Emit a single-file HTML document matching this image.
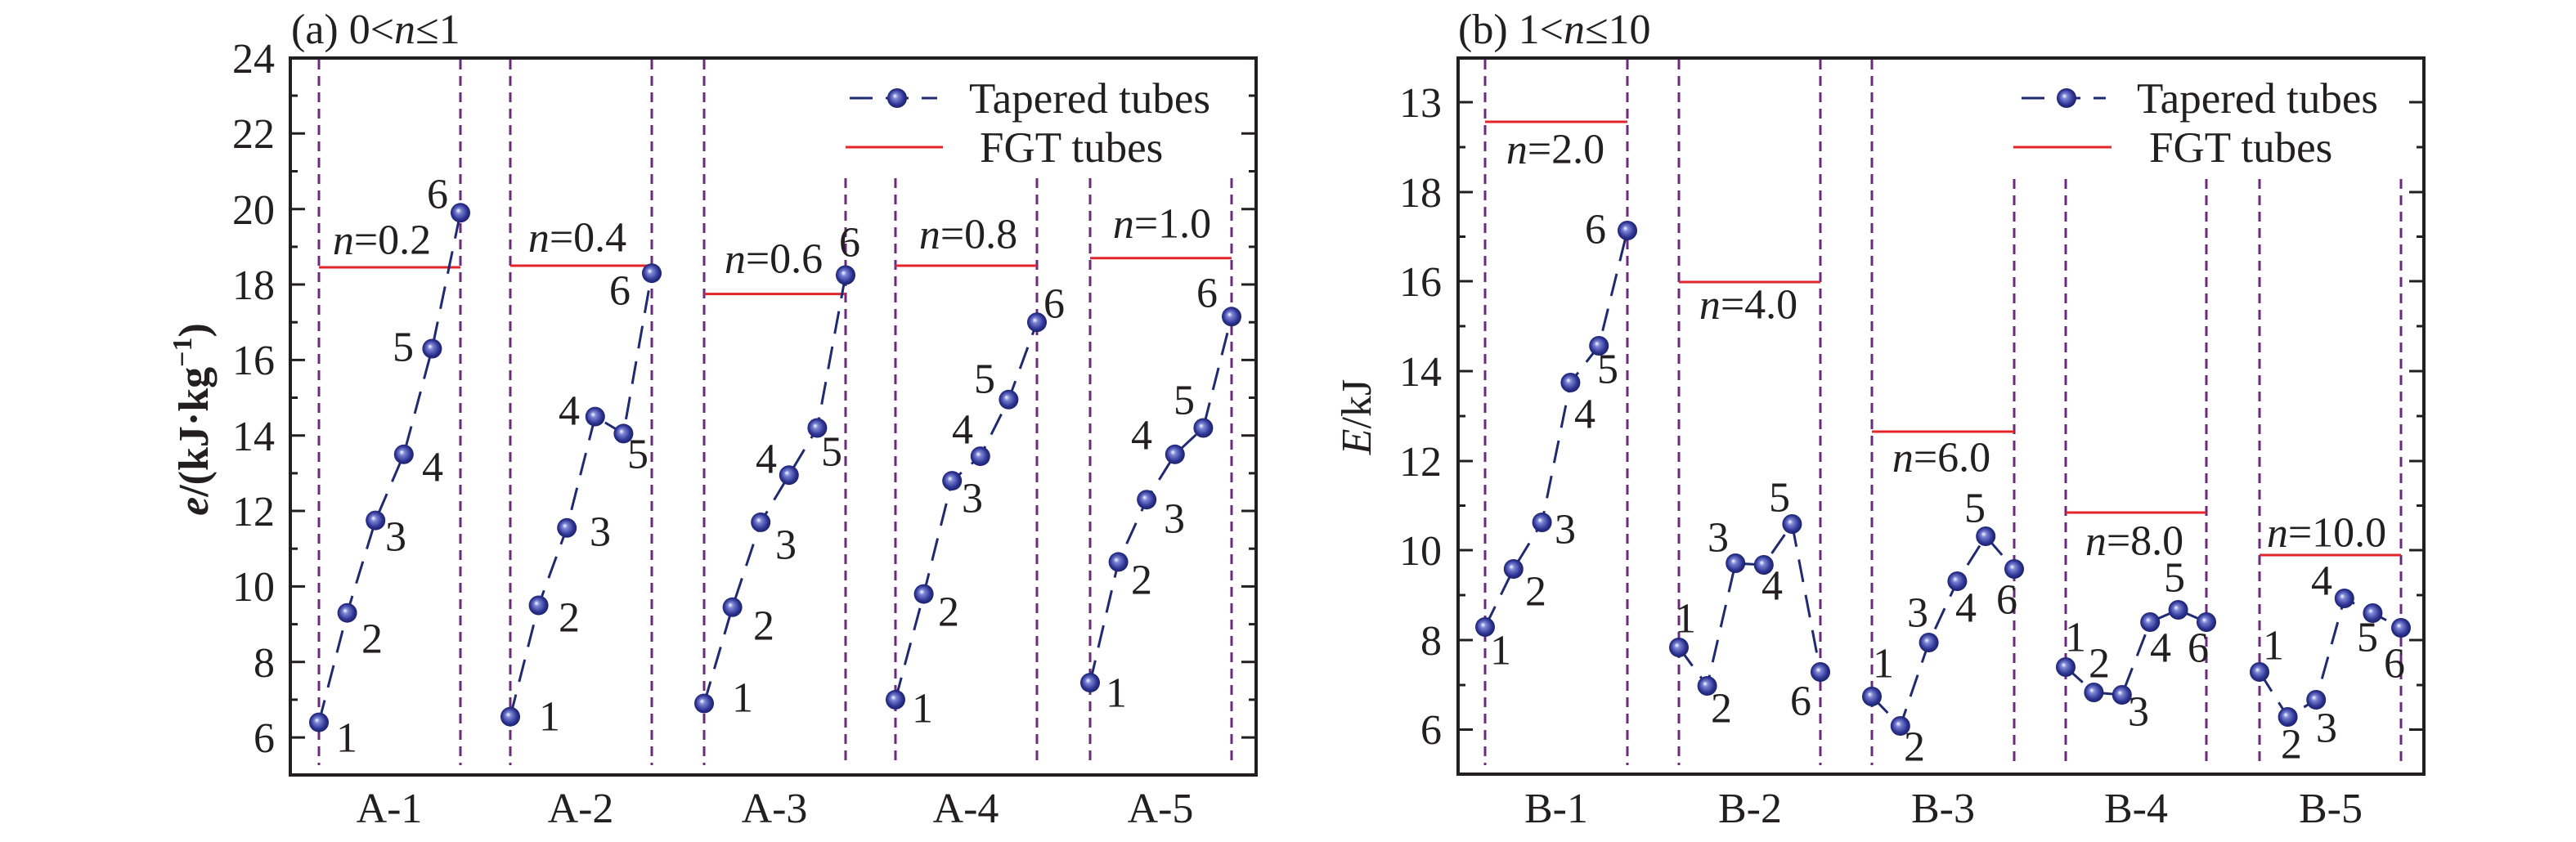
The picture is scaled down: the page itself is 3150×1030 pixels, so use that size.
<!DOCTYPE html>
<html><head><meta charset="utf-8"><style>html,body{margin:0;padding:0;background:#fff}svg{display:block}</style></head>
<body>
<svg width="3150" height="1030" viewBox="0 0 3150 1030" xmlns="http://www.w3.org/2000/svg" font-family="'Liberation Serif', serif" fill="#231f20">
<defs>
<radialGradient id="b" cx="50%" cy="50%" r="55%" fx="38%" fy="38%">
<stop offset="0" stop-color="#ffffff"/><stop offset="0.25" stop-color="#7c84d6"/><stop offset="0.7" stop-color="#2c3391"/><stop offset="1" stop-color="#161a5c"/>
</radialGradient>
</defs>
<!-- ===== LEFT PLOT ===== -->
<g stroke="#6b2a7e" stroke-width="3" stroke-dasharray="12 8">
<line x1="390" y1="73" x2="390" y2="936"/><line x1="563" y1="73" x2="563" y2="936"/>
<line x1="624" y1="73" x2="624" y2="936"/><line x1="797" y1="73" x2="797" y2="936"/>
<line x1="861" y1="73" x2="861" y2="936"/><line x1="1034" y1="218" x2="1034" y2="936"/>
<line x1="1095" y1="218" x2="1095" y2="936"/><line x1="1268" y1="218" x2="1268" y2="936"/>
<line x1="1333" y1="218" x2="1333" y2="936"/><line x1="1506" y1="218" x2="1506" y2="936"/>
</g>
<g stroke="#e3242b" stroke-width="3">
<line x1="390" y1="327" x2="563" y2="327"/><line x1="624" y1="325" x2="797" y2="325"/>
<line x1="861" y1="359.6" x2="1034" y2="359.6"/><line x1="1095" y1="325" x2="1268" y2="325"/>
<line x1="1333" y1="315.7" x2="1506" y2="315.7"/>
<line x1="1034" y1="180" x2="1153" y2="180"/>
</g>
<g fill="none" stroke="#1f2a70" stroke-width="3" stroke-dasharray="28 16">
<polyline points="390,883.6 424.6,749.7 459.2,636.6 493.8,555.8 528.4,426.5 563,260.3"/>
<polyline points="624,876.7 658.6,740.5 693.2,645.8 727.8,509.6 762.4,530.4 797,334.2"/>
<polyline points="861,860.5 895.6,742.8 930.2,638.9 964.8,581.2 999.4,523.5 1034,336.5"/>
<polyline points="1095,855.9 1129.6,726.6 1164.2,588.1 1198.8,558.1 1233.4,488.8 1268,394.2"/>
<polyline points="1333,835.1 1367.6,687.4 1402.2,611.2 1436.8,555.8 1471.4,523.5 1506,387.3"/>
<line x1="1039" y1="120" x2="1146" y2="120"/>
</g>
<g fill="url(#b)">
<circle cx="390" cy="883.6" r="12"/><circle cx="424.6" cy="749.7" r="12"/><circle cx="459.2" cy="636.6" r="12"/><circle cx="493.8" cy="555.8" r="12"/><circle cx="528.4" cy="426.5" r="12"/><circle cx="563" cy="260.3" r="12"/>
<circle cx="624" cy="876.7" r="12"/><circle cx="658.6" cy="740.5" r="12"/><circle cx="693.2" cy="645.8" r="12"/><circle cx="727.8" cy="509.6" r="12"/><circle cx="762.4" cy="530.4" r="12"/><circle cx="797" cy="334.2" r="12"/>
<circle cx="861" cy="860.5" r="12"/><circle cx="895.6" cy="742.8" r="12"/><circle cx="930.2" cy="638.9" r="12"/><circle cx="964.8" cy="581.2" r="12"/><circle cx="999.4" cy="523.5" r="12"/><circle cx="1034" cy="336.5" r="12"/>
<circle cx="1095" cy="855.9" r="12"/><circle cx="1129.6" cy="726.6" r="12"/><circle cx="1164.2" cy="588.1" r="12"/><circle cx="1198.8" cy="558.1" r="12"/><circle cx="1233.4" cy="488.8" r="12"/><circle cx="1268" cy="394.2" r="12"/>
<circle cx="1333" cy="835.1" r="12"/><circle cx="1367.6" cy="687.4" r="12"/><circle cx="1402.2" cy="611.2" r="12"/><circle cx="1436.8" cy="555.8" r="12"/><circle cx="1471.4" cy="523.5" r="12"/><circle cx="1506" cy="387.3" r="12"/>
<circle cx="1097" cy="120" r="12"/>
</g>
<!-- frame & ticks -->
<rect x="355" y="71" width="1181" height="877" fill="none" stroke="#231f20" stroke-width="4"/>
<g stroke="#231f20" stroke-width="3">
<line x1="355" y1="71" x2="373" y2="71"/><line x1="355" y1="117" x2="364" y2="117"/>
<line x1="355" y1="163.3" x2="373" y2="163.3"/><line x1="355" y1="209.5" x2="364" y2="209.5"/>
<line x1="355" y1="255.7" x2="373" y2="255.7"/><line x1="355" y1="301.9" x2="364" y2="301.9"/>
<line x1="355" y1="348" x2="373" y2="348"/><line x1="355" y1="394.2" x2="364" y2="394.2"/>
<line x1="355" y1="440.4" x2="373" y2="440.4"/><line x1="355" y1="486.5" x2="364" y2="486.5"/>
<line x1="355" y1="532.7" x2="373" y2="532.7"/><line x1="355" y1="578.9" x2="364" y2="578.9"/>
<line x1="355" y1="625" x2="373" y2="625"/><line x1="355" y1="671.2" x2="364" y2="671.2"/>
<line x1="355" y1="717.4" x2="373" y2="717.4"/><line x1="355" y1="763.6" x2="364" y2="763.6"/>
<line x1="355" y1="809.7" x2="373" y2="809.7"/><line x1="355" y1="855.9" x2="364" y2="855.9"/>
<line x1="355" y1="902.1" x2="373" y2="902.1"/>
<line x1="1536" y1="117" x2="1527" y2="117"/><line x1="1536" y1="163.3" x2="1518" y2="163.3"/>
<line x1="1536" y1="209.5" x2="1527" y2="209.5"/><line x1="1536" y1="255.7" x2="1518" y2="255.7"/>
<line x1="1536" y1="301.9" x2="1527" y2="301.9"/><line x1="1536" y1="348" x2="1518" y2="348"/>
<line x1="1536" y1="394.2" x2="1527" y2="394.2"/><line x1="1536" y1="440.4" x2="1518" y2="440.4"/>
<line x1="1536" y1="486.5" x2="1527" y2="486.5"/><line x1="1536" y1="532.7" x2="1518" y2="532.7"/>
<line x1="1536" y1="578.9" x2="1527" y2="578.9"/><line x1="1536" y1="625" x2="1518" y2="625"/>
<line x1="1536" y1="671.2" x2="1527" y2="671.2"/><line x1="1536" y1="717.4" x2="1518" y2="717.4"/>
<line x1="1536" y1="763.6" x2="1527" y2="763.6"/><line x1="1536" y1="809.7" x2="1518" y2="809.7"/>
<line x1="1536" y1="855.9" x2="1527" y2="855.9"/><line x1="1536" y1="902.1" x2="1518" y2="902.1"/>
</g>
<g font-size="52" text-anchor="end">
<text x="336" y="89">24</text><text x="336" y="181">22</text><text x="336" y="274">20</text><text x="336" y="366">18</text>
<text x="336" y="458">16</text><text x="336" y="551">14</text><text x="336" y="643">12</text><text x="336" y="735">10</text>
<text x="336" y="828">8</text><text x="336" y="920">6</text>
</g>
<text x="356" y="53" font-size="52">(a) 0&lt;<tspan font-style="italic">n</tspan>≤1</text>
<text transform="translate(254,513) rotate(-90)" font-size="52" font-weight="bold" text-anchor="middle"><tspan font-style="italic">e</tspan>/(kJ·kg<tspan font-size="34" dy="-20">−1</tspan><tspan dy="20">)</tspan></text>
<g font-size="52" text-anchor="middle">
<text x="476" y="1006">A-1</text><text x="710" y="1006">A-2</text><text x="947" y="1006">A-3</text><text x="1181" y="1006">A-4</text><text x="1419" y="1006">A-5</text>
</g>
<g font-size="52" text-anchor="middle" dominant-baseline="central">
<text x="424" y="903">1</text><text x="455" y="782">2</text><text x="484" y="657">3</text><text x="529" y="572">4</text><text x="493" y="425">5</text><text x="535" y="238">6</text>
<text x="672" y="877">1</text><text x="696" y="756">2</text><text x="734" y="651">3</text><text x="696" y="503">4</text><text x="780" y="556">5</text><text x="758" y="356">6</text>
<text x="908" y="854">1</text><text x="934" y="766">2</text><text x="961" y="667">3</text><text x="937" y="562">4</text><text x="1017" y="553">5</text><text x="1039" y="297">6</text>
<text x="1128" y="867">1</text><text x="1160" y="749">2</text><text x="1189" y="610">3</text><text x="1177" y="526">4</text><text x="1204" y="464">5</text><text x="1289" y="372">6</text>
<text x="1365" y="848">1</text><text x="1396" y="710">2</text><text x="1436" y="635">3</text><text x="1396" y="533">4</text><text x="1448" y="490">5</text><text x="1476" y="359">6</text>
<text x="467" y="294"><tspan font-style="italic">n</tspan>=0.2</text>
<text x="706" y="291"><tspan font-style="italic">n</tspan>=0.4</text>
<text x="946" y="317"><tspan font-style="italic">n</tspan>=0.6</text>
<text x="1184" y="287"><tspan font-style="italic">n</tspan>=0.8</text>
<text x="1421" y="274"><tspan font-style="italic">n</tspan>=1.0</text>
</g>
<g font-size="53"><text x="1185" y="138">Tapered tubes</text><text x="1198" y="198">FGT tubes</text></g>

<!-- ===== RIGHT PLOT ===== -->
<g stroke="#6b2a7e" stroke-width="3" stroke-dasharray="12 8">
<line x1="1816" y1="73" x2="1816" y2="936"/><line x1="1990" y1="73" x2="1990" y2="936"/>
<line x1="2053" y1="73" x2="2053" y2="936"/><line x1="2226" y1="73" x2="2226" y2="936"/>
<line x1="2289" y1="73" x2="2289" y2="936"/><line x1="2463" y1="219" x2="2463" y2="936"/>
<line x1="2526" y1="219" x2="2526" y2="936"/><line x1="2698" y1="219" x2="2698" y2="936"/>
<line x1="2763" y1="219" x2="2763" y2="936"/><line x1="2936" y1="219" x2="2936" y2="936"/>
</g>
<g stroke="#e3242b" stroke-width="3">
<line x1="1816" y1="149" x2="1990" y2="149"/><line x1="2053" y1="345" x2="2226" y2="345"/>
<line x1="2289" y1="528" x2="2463" y2="528"/><line x1="2526" y1="627" x2="2698" y2="627"/>
<line x1="2763" y1="679" x2="2936" y2="679"/>
<line x1="2462" y1="180" x2="2582" y2="180"/>
</g>
<g fill="none" stroke="#1f2a70" stroke-width="3" stroke-dasharray="28 16">
<polyline points="1816,767 1850.8,696 1885.6,639 1920.4,468 1955.2,423 1990,282"/>
<polyline points="2053,792 2087.6,839 2122.2,689 2156.8,691 2191.4,641 2226,822"/>
<polyline points="2289,852 2323.8,888 2358.6,786 2393.4,711 2428.2,656 2463,696"/>
<polyline points="2526,816 2560.4,847 2594.8,850 2629.2,761 2663.6,746 2698,761"/>
<polyline points="2763,822 2797.6,877 2832.2,856 2866.8,732 2901.4,750 2936,768"/>
<line x1="2472" y1="120" x2="2575" y2="120"/>
</g>
<g fill="url(#b)">
<circle cx="1816" cy="767" r="12"/><circle cx="1850.8" cy="696" r="12"/><circle cx="1885.6" cy="639" r="12"/><circle cx="1920.4" cy="468" r="12"/><circle cx="1955.2" cy="423" r="12"/><circle cx="1990" cy="282" r="12"/>
<circle cx="2053" cy="792" r="12"/><circle cx="2087.6" cy="839" r="12"/><circle cx="2122.2" cy="689" r="12"/><circle cx="2156.8" cy="691" r="12"/><circle cx="2191.4" cy="641" r="12"/><circle cx="2226" cy="822" r="12"/>
<circle cx="2289" cy="852" r="12"/><circle cx="2323.8" cy="888" r="12"/><circle cx="2358.6" cy="786" r="12"/><circle cx="2393.4" cy="711" r="12"/><circle cx="2428.2" cy="656" r="12"/><circle cx="2463" cy="696" r="12"/>
<circle cx="2526" cy="816" r="12"/><circle cx="2560.4" cy="847" r="12"/><circle cx="2594.8" cy="850" r="12"/><circle cx="2629.2" cy="761" r="12"/><circle cx="2663.6" cy="746" r="12"/><circle cx="2698" cy="761" r="12"/>
<circle cx="2763" cy="822" r="12"/><circle cx="2797.6" cy="877" r="12"/><circle cx="2832.2" cy="856" r="12"/><circle cx="2866.8" cy="732" r="12"/><circle cx="2901.4" cy="750" r="12"/><circle cx="2936" cy="768" r="12"/>
<circle cx="2527" cy="120" r="12"/>
</g>
<rect x="1783" y="71" width="1181" height="876" fill="none" stroke="#231f20" stroke-width="4"/>
<g stroke="#231f20" stroke-width="3">
<line x1="1783" y1="125" x2="1801" y2="125"/><line x1="1783" y1="180" x2="1792" y2="180"/>
<line x1="1783" y1="235" x2="1801" y2="235"/><line x1="1783" y1="289.5" x2="1792" y2="289.5"/>
<line x1="1783" y1="344" x2="1801" y2="344"/><line x1="1783" y1="399" x2="1792" y2="399"/>
<line x1="1783" y1="454" x2="1801" y2="454"/><line x1="1783" y1="509" x2="1792" y2="509"/>
<line x1="1783" y1="564" x2="1801" y2="564"/><line x1="1783" y1="618.5" x2="1792" y2="618.5"/>
<line x1="1783" y1="673" x2="1801" y2="673"/><line x1="1783" y1="728" x2="1792" y2="728"/>
<line x1="1783" y1="783" x2="1801" y2="783"/><line x1="1783" y1="838" x2="1792" y2="838"/>
<line x1="1783" y1="892.5" x2="1801" y2="892.5"/>
<line x1="2964" y1="125" x2="2946" y2="125"/><line x1="2964" y1="180" x2="2955" y2="180"/>
<line x1="2964" y1="235" x2="2946" y2="235"/><line x1="2964" y1="289.5" x2="2955" y2="289.5"/>
<line x1="2964" y1="344" x2="2946" y2="344"/><line x1="2964" y1="399" x2="2955" y2="399"/>
<line x1="2964" y1="454" x2="2946" y2="454"/><line x1="2964" y1="509" x2="2955" y2="509"/>
<line x1="2964" y1="564" x2="2946" y2="564"/><line x1="2964" y1="618.5" x2="2955" y2="618.5"/>
<line x1="2964" y1="673" x2="2946" y2="673"/><line x1="2964" y1="728" x2="2955" y2="728"/>
<line x1="2964" y1="783" x2="2946" y2="783"/><line x1="2964" y1="838" x2="2955" y2="838"/>
<line x1="2964" y1="892.5" x2="2946" y2="892.5"/>
</g>
<g font-size="52" text-anchor="end">
<text x="1763" y="143">13</text><text x="1763" y="253">18</text><text x="1763" y="362">16</text><text x="1763" y="472">14</text>
<text x="1763" y="582">12</text><text x="1763" y="691">10</text><text x="1763" y="801">8</text><text x="1763" y="910">6</text>
</g>
<text x="1783" y="53" font-size="52">(b) 1&lt;<tspan font-style="italic">n</tspan>≤10</text>
<text transform="translate(1676,510) rotate(-90)" font-size="52" text-anchor="middle"><tspan font-style="italic">E</tspan>/kJ</text>
<g font-size="52" text-anchor="middle">
<text x="1903" y="1006">B-1</text><text x="2140" y="1006">B-2</text><text x="2376" y="1006">B-3</text><text x="2612" y="1006">B-4</text><text x="2850" y="1006">B-5</text>
</g>
<g font-size="52" text-anchor="middle" dominant-baseline="central">
<text x="1835" y="796">1</text><text x="1878" y="724">2</text><text x="1914" y="648">3</text><text x="1938" y="507">4</text><text x="1966" y="452">5</text><text x="1951" y="281">6</text>
<text x="2061" y="757">1</text><text x="2105" y="867">2</text><text x="2101" y="658">3</text><text x="2167" y="717">4</text><text x="2176" y="609">5</text><text x="2202" y="858">6</text>
<text x="2303" y="812">1</text><text x="2341" y="914">2</text><text x="2345" y="750">3</text><text x="2404" y="744">4</text><text x="2415" y="622">5</text><text x="2454" y="734">6</text>
<text x="2538" y="780">1</text><text x="2567" y="812">2</text><text x="2615" y="871">3</text><text x="2642" y="793">4</text><text x="2659" y="707">5</text><text x="2688" y="793">6</text>
<text x="2780" y="790">1</text><text x="2802" y="911">2</text><text x="2845" y="891">3</text><text x="2839" y="711">4</text><text x="2895" y="780">5</text><text x="2928" y="812">6</text>
<text x="1902" y="183"><tspan font-style="italic">n</tspan>=2.0</text>
<text x="2138" y="373"><tspan font-style="italic">n</tspan>=4.0</text>
<text x="2374" y="560"><tspan font-style="italic">n</tspan>=6.0</text>
<text x="2610" y="662"><tspan font-style="italic">n</tspan>=8.0</text>
<text x="2845" y="652"><tspan font-style="italic">n</tspan>=10.0</text>
</g>
<g font-size="53"><text x="2613" y="138">Tapered tubes</text><text x="2628" y="198">FGT tubes</text></g>
</svg>
</body></html>
